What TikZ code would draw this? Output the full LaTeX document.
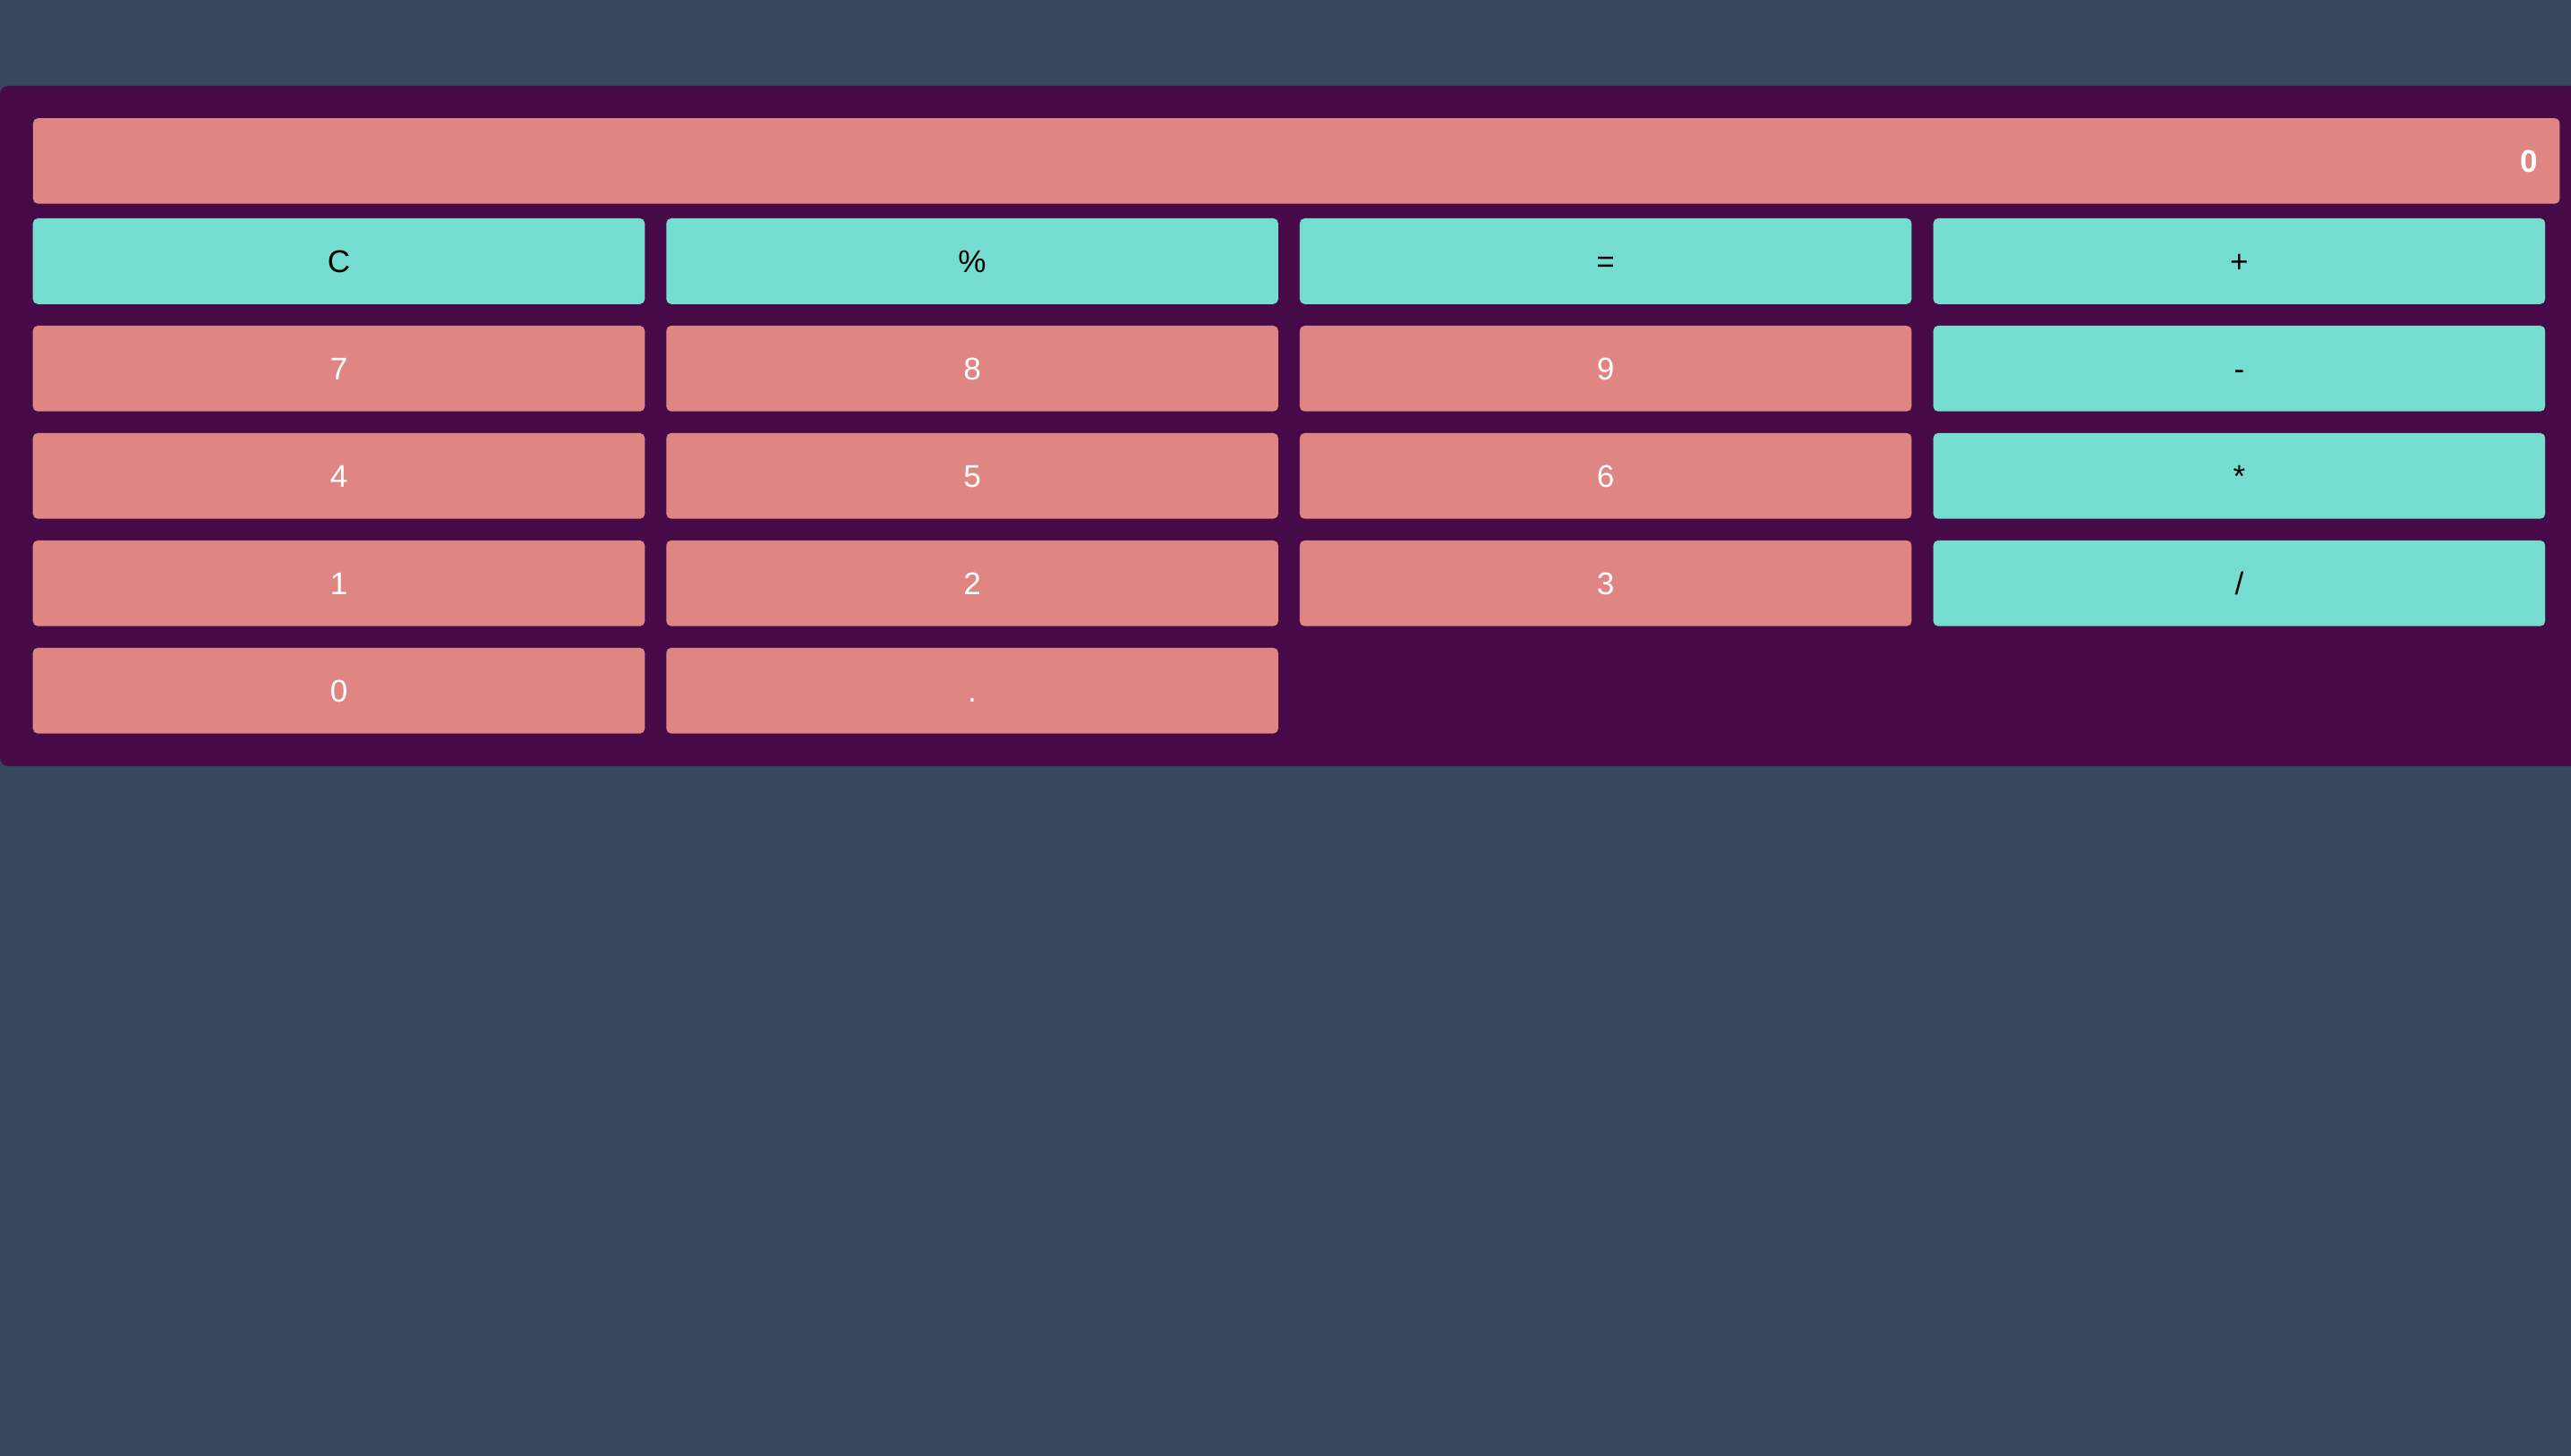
\documentclass[tikz,border=0pt]{standalone}
\usepackage{fontspec}
\setmainfont{Liberation Sans}
\definecolor{pagebg}{HTML}{36465D}
\definecolor{calcbg}{HTML}{470A48}
\definecolor{numfill}{HTML}{E08682}
\definecolor{opfill}{HTML}{75DDD0}
\tikzset{
  key/.style={rounded corners=0.06cm, minimum width=7.466cm, minimum height=1.046cm,
    inner sep=0pt, text height=7.8pt, text depth=0pt, font=\fontsize{10.9}{13}\selectfont},
  numbtn/.style={key, fill=numfill, text=white},
  opbtn/.style={key, fill=opfill, text=black},
  screen/.style={rounded corners=0.06cm, fill=numfill, text=white, minimum height=1.044cm,
    inner xsep=0.27cm, inner ysep=0pt, text width=30.286cm, align=right,
    text height=7.8pt, text depth=0pt, font=\fontsize{10.9}{13}\selectfont\bfseries}
}
\begin{document}
\begin{tikzpicture}[x=0.02cm, y=-0.02cm]
        \useasboundingbox (0,0) rectangle (1568,888);
        \fill[pagebg] (0,0) rectangle (1568,888);
        \begin{scope}
        \clip (0,0) rectangle (1568,888);
        \fill[calcbg, rounded corners=0.1cm] (0,52.4) rectangle (1600,467.4);
        \end{scope}
        % display
        \node[screen] (display) at (790.65,98.2) {0};
        % row 1
        \node[opbtn] (bclear) at (206.65,159.35) {C};
        \node[opbtn] (bpercent) at (592.95,159.35) {\%};
        \node[opbtn] (bequals) at (979.25,159.35) {=};
        \node[opbtn] (bplus) at (1365.65,159.35) {+};
        % row 2
        \node[numbtn] (bseven) at (206.65,224.85) {7};
        \node[numbtn] (beight) at (592.95,224.85) {8};
        \node[numbtn] (bnine) at (979.25,224.85) {9};
        \node[opbtn] (bminus) at (1365.65,224.85) {-};
        % row 3
        \node[numbtn] (bfour) at (206.65,290.35) {4};
        \node[numbtn] (bfive) at (592.95,290.35) {5};
        \node[numbtn] (bsix) at (979.25,290.35) {6};
        \node[opbtn] (btimes) at (1365.65,290.35) {*};
        % row 4
        \node[numbtn] (bone) at (206.65,355.85) {1};
        \node[numbtn] (btwo) at (592.95,355.85) {2};
        \node[numbtn] (bthree) at (979.25,355.85) {3};
        \node[opbtn] (bdivide) at (1365.65,355.85) {/};
        % row 5
        \node[numbtn] (bzero) at (206.65,421.35) {0};
        \node[numbtn] (bpoint) at (592.95,421.35) {.};
    \end{tikzpicture}
\end{document}
